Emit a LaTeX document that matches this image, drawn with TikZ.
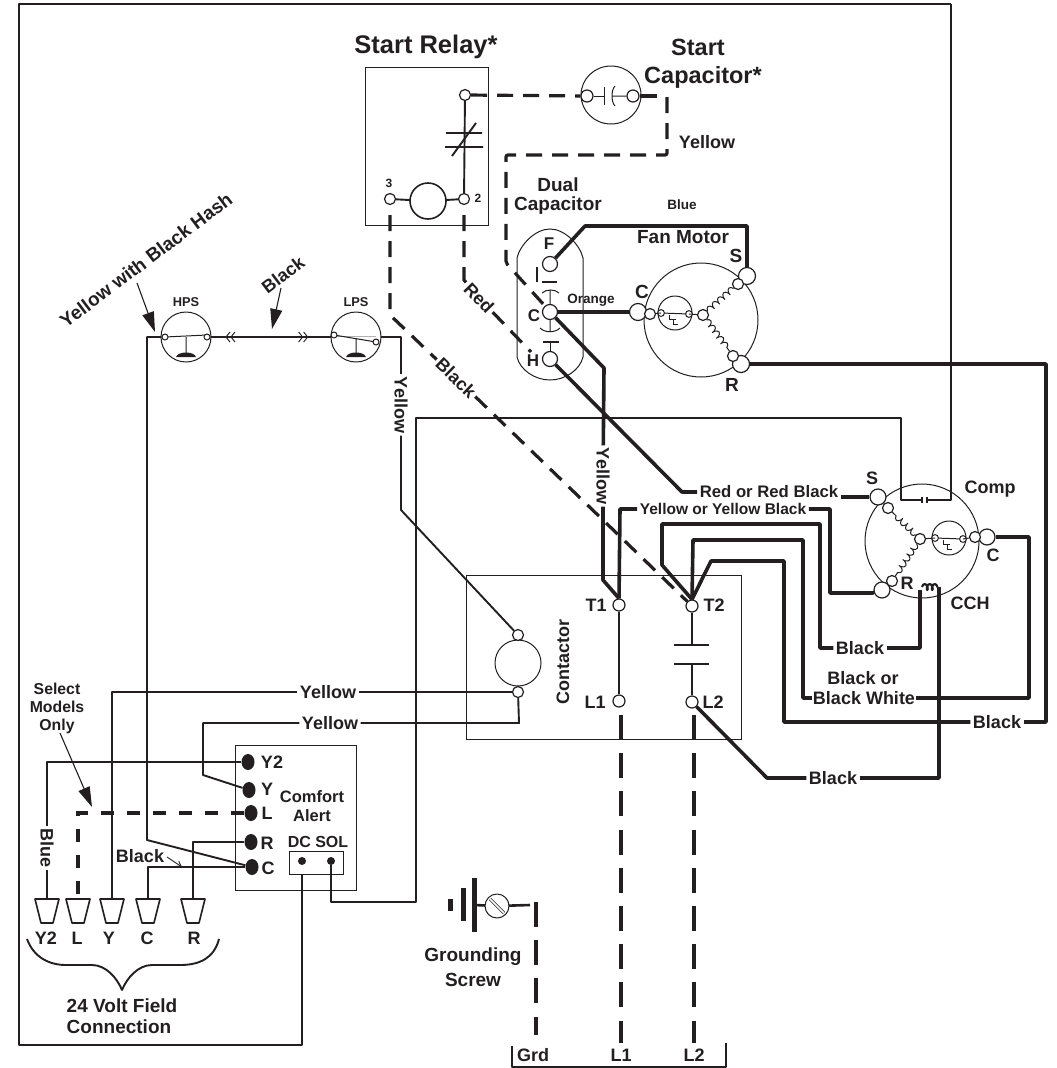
\documentclass[tikz,border=0pt]{standalone}
\usepackage{fontspec}
\setmainfont{Liberation Sans}
\usepackage{tikz}
\usetikzlibrary{shapes.geometric, arrows.meta, decorations.pathmorphing, decorations.markings}
\definecolor{ink}{HTML}{231F20}
\tikzset{
    lbl/.style={font=\fontsize{18}{19}\selectfont\bfseries, text=ink, inner sep=2.5pt},
    headlbl/.style={font=\fontsize{19}{19}\selectfont\bfseries, text=ink, inner sep=1pt, align=center},
    midlbl/.style={font=\fontsize{16}{18}\selectfont\bfseries, text=ink, inner sep=2.5pt, align=center},
    smalllbl/.style={font=\fontsize{13.5}{14}\selectfont\bfseries, text=ink, inner sep=1pt},
    term/.style={circle, draw=ink, fill=white, line width=1.2pt, inner sep=0pt, minimum size=11pt},
    bigterm/.style={term, minimum size=17pt},
    fieldterm/.style={ellipse, fill=ink, inner sep=0pt, minimum width=13pt, minimum height=16pt},
    dot/.style={circle, fill=ink, inner sep=0pt, minimum size=8pt},
    plate/.style={rectangle, draw=ink, line width=1pt, inner sep=0pt, outer sep=0pt},
    body/.style={circle, draw=ink, line width=1pt, inner sep=0pt, outer sep=0pt},
    fine/.style={draw=ink, line width=1pt},
    winding/.style={draw=ink, line width=1pt, decorate, decoration={coil, aspect=.45, segment length=7pt, amplitude=3pt}},
    wire/.style={draw=ink, line width=1.9pt, line join=round},
    heavy/.style={draw=ink, line width=3.6pt, line join=round},
    dashwire/.style={draw=ink, line width=3.2pt, dash pattern=on 16pt off 10pt},
    longdash/.style={draw=ink, line width=3.2pt, dash pattern=on 25pt off 13.2pt},
    shortdash/.style={draw=ink, line width=3.2pt, dash pattern=on 13pt off 13pt},
    pointer/.style={draw=ink, line width=1.1pt, -{Triangle[length=20pt,width=12pt]}},
    plugshape/.pic={
        \draw[draw=ink, line width=1.6pt, line join=round] (-12,0) -- (12,0) -- (6,24) -- (-6,24) -- cycle;
    },
    overload/.pic={
        \draw[fine] (0,0) circle (17pt);
        \draw[fine] (-14,0) -- (14,1);
        \draw[fine, fill=white] (-14,0) circle (3.4pt);
        \draw[fine, fill=white] (14,1) circle (3.4pt);
        \draw[fine] (-6,2) -- (-6,6) -- (1,6) (-2,6) -- (-2,11) -- (3,11);
    }
}
\begin{document}
\begin{tikzpicture}[x=1pt, y=-1pt]
\useasboundingbox (0,0) rectangle (1057,1068);

\node[plate, minimum width=123pt, minimum height=158pt] (relayBox) at (426.5,146) {};
\node[term] (relayTop) at (465,95) {};
\node[term] (relayTwo) at (464,199) {};
\node[term] (relayThree) at (390,199) {};
\node[body, line width=1.6pt, minimum size=36pt] (relayCoil) at (428,201) {};
\node[lbl, font=\fontsize{25.5}{26}\selectfont\bfseries] (titleRelay) at (426,47) {Start Relay*};
\node[smalllbl, font=\fontsize{12}{12}\selectfont\bfseries] (lblThree) at (389,183) {3};
\node[smalllbl, font=\fontsize{12}{12}\selectfont\bfseries] (lblTwo) at (478,198) {2};
\draw[wire] (relayTop) -- (relayTwo);
\draw[wire] (446,133) -- (482,133) (445,147) -- (483,147) (452,156) -- (476,123);
\draw[wire] (relayThree) -- (relayCoil);
\draw[wire] (relayCoil) -- (relayTwo);

\node[body, ellipse, minimum width=60pt, minimum height=58pt] (startCap) at (611,95) {};
\node[term, minimum size=12pt] (startCapL) at (587,96) {};
\node[term, minimum size=12pt] (startCapR) at (633,96) {};
\node[lbl, font=\fontsize{23.5}{23.5}\selectfont\bfseries] (titleStart) at (698,47) {Start};
\node[lbl, font=\fontsize{23.5}{23.5}\selectfont\bfseries] (titleCapacitor) at (703,77) {Capacitor*};
\node[lbl] (lblYellowCap) at (707,142) {Yellow};
\draw[fine] (startCapL) -- (604,96) (604,87) -- (604,105);
\draw[fine] (615,86) .. controls (611,90) and (611,102) .. (615,106) (612,96) -- (startCapR);
\draw[dashwire] (relayTop) -- (startCapL);
\draw[heavy] (startCapR) -- (657,96);
\draw[dashwire, rounded corners=2pt] (667,97) |- (506,155) -- (506,263) -- (545,306);

\node[headlbl] (titleDual) at (558,196) {Dual\\Capacitor};
\node[smalllbl] (lblBlueFan) at (682,205) {Blue};
\node[headlbl] (titleFan) at (683,237) {Fan Motor};
\draw[fine] (517,258) -- (517,357) .. controls (520,370) and (535,380) .. (550,380) .. controls (565,380) and (580,370) .. (583,357) -- (583,258) .. controls (580,245) and (565,229) .. (550,229) .. controls (535,229) and (520,245) .. (517,258);
\node[term, minimum size=15pt] (capF) at (550,264) {};
\node[term, minimum size=15pt] (capC) at (550,312) {};
\node[term, minimum size=15pt] (capH) at (550,359) {};
\node[headlbl, font=\fontsize{17}{17}\selectfont\bfseries] (lblF) at (549,244) {F};
\node[headlbl, font=\fontsize{17}{17}\selectfont\bfseries] (lblC) at (534,316) {C};
\node[headlbl, font=\fontsize{17}{17}\selectfont\bfseries] (lblH) at (533,361) {H};
\node[smalllbl] (lblOrange) at (591,300) {Orange};
\draw[fine, line width=1.4pt] (537,267) -- (537,282) (542,282) -- (557,282) (543,342) -- (559,342);
\draw[fine] (542,293) .. controls (546,289) and (555,289) .. (559,293) (550,290) -- (capC);
\draw[fine] (540,328) .. controls (545,333) and (555,333) .. (560,328) (550,332) -- (capC);
\draw[fine] (550,342) -- (capH);

\node[body, minimum size=114pt] (motorBody) at (701,320) {};
\node[bigterm] (motorS) at (747,276) {};
\node[term] (motorSin) at (738,284) {};
\node[bigterm] (motorR) at (741,364) {};
\node[term] (motorRin) at (733,356) {};
\node[bigterm] (motorC) at (638,312) {};
\node[term] (motorCin) at (650,314) {};
\node[term] (motorStar) at (703,315) {};
\node[headlbl] (lblMotorS) at (736,256) {S};
\node[headlbl] (lblMotorC) at (642,292) {C};
\node[headlbl] (lblMotorR) at (732,385) {R};
\pic at (675,313) {overload};
\draw[fine] (motorCin) -- (661,313) (689,314) -- (motorStar);
\draw[winding] (motorStar) -- (motorSin);
\draw[winding] (motorStar) -- (motorRin);

\node[body, minimum size=50pt] (hpsBody) at (186,337) {};
\node[body, minimum size=50pt] (lpsBody) at (356,337) {};
\node[smalllbl, font=\fontsize{12.8}{13}\selectfont\bfseries] (lblHps) at (186,302) {HPS};
\node[smalllbl, font=\fontsize{12.8}{13}\selectfont\bfseries] (lblLps) at (356,302) {LPS};
\draw[fine] (165,337) -- (207,335) (186,337) -- (186,356);
\draw[fine, fill=white] (165,337) circle (3pt) (207,337) circle (3pt);
\fill[ink] (176,357) .. controls (178,351) and (194,351) .. (196,357) -- cycle;
\draw[draw=black!30, line width=.6pt] (334,336) -- (376,336);
\draw[fine] (334,335) -- (376,342) (356,339) -- (356,354);
\draw[fine, fill=white] (334,335) circle (3pt) (376,342) circle (3pt);
\fill[ink] (346,357) .. controls (348,351) and (364,351) .. (366,357) -- cycle;

\node[lbl, rotate=37, font=\fontsize{19}{19}\selectfont\bfseries] (lblHash) at (146,260) {Yellow with Black Hash};
\node[lbl, rotate=37] (lblBlackTop) at (283,275) {Black};
\node[lbl, rotate=-90] (lblYellowLps) at (401,405) {Yellow};
\coordinate (hashStart) at (137,283);
\coordinate (hashTip) at (155,332);
\coordinate (blackStart) at (281,288);
\coordinate (blackTip) at (272,329);
\draw[pointer] (hashStart) -- (hashTip);
\draw[pointer] (blackStart) -- (blackTip);
\draw[wire, postaction={decorate}, decoration={markings,
    mark=at position .12 with {\arrowreversed{Straight Barb[length=4pt,width=10pt,line width=.9pt]Straight Barb[length=4pt,width=10pt,line width=.9pt]}},
    mark=at position .81 with {\arrow{Straight Barb[length=4pt,width=10pt,line width=.9pt]Straight Barb[length=4pt,width=10pt,line width=.9pt]}}}] (hpsBody.east) -- (lpsBody.west);
\draw[wire] (lpsBody.east) -- (401,337) -- (lblYellowLps);

\node[plate, minimum width=275pt, minimum height=164pt] (contactorBox) at (603.5,657) {};
\node[body, minimum size=46pt] (contactorCoil) at (518,663) {};
\node[term] (coilTop) at (518,635) {};
\node[term] (coilBottom) at (518,692) {};
\node[term, minimum size=12pt] (termT1) at (619,605) {};
\node[term, minimum size=12pt] (termL1) at (619,701) {};
\node[term, minimum size=12pt] (termT2) at (692,606) {};
\node[term, minimum size=12pt] (termL2) at (692,702) {};
\node[lbl, inner sep=0pt] (lblT1) at (596,605) {T1};
\node[lbl, inner sep=0pt] (lblT2) at (714,605) {T2};
\node[lbl, inner sep=0pt] (lblL1) at (595,702) {L1};
\node[lbl, inner sep=0pt] (lblL2) at (713,702) {L2};
\node[lbl, rotate=90] (lblContactor) at (563,662) {Contactor};
\draw[wire] (termT1) -- (termL1);
\draw[wire] (termT2) -- (692,645) (692,664) -- (termL2);
\draw[wire] (674,645) -- (709,645) (674,664) -- (709,664);
\draw[wire] (lblYellowLps) -- (401,510) -- (coilTop);

\node[lbl, rotate=-46] (lblRed) at (479,298) {Red};
\node[lbl, rotate=-44] (lblBlackDash) at (456,378) {Black};
\coordinate (redEnd) at (531,352);
\draw[dashwire, dash phase=16pt] (relayTwo) -- (464,280) -- (lblRed);
\draw[dashwire] (lblRed) -- (redEnd);
\draw[dashwire, dash phase=16pt] (relayThree) -- (390,315) -- (lblBlackDash);
\draw[dashwire] (lblBlackDash) -- (termT2);

\draw[heavy] (capF) -- (585,226) -| (motorS);
\draw[heavy] (capC) -- (motorC);
\node[lbl, rotate=-90] (lblYellowRun) at (603,476) {Yellow};
\draw[heavy] (capC) -- (604,368) -- (lblYellowRun);
\draw[heavy] (lblYellowRun) -- (603,580) -- (termT1.north);

\node[body, minimum size=114pt] (compBody) at (922,541) {};
\node[bigterm, minimum size=16pt] (compS) at (878,497) {};
\node[term] (compSin) at (888,508) {};
\node[bigterm, minimum size=16pt] (compR) at (882,590) {};
\node[term] (compRin) at (892,581) {};
\node[bigterm, minimum size=16pt] (compC) at (987,537) {};
\node[term] (compCin) at (975,537) {};
\node[term] (compStar) at (920,539) {};
\node[lbl, inner sep=0pt] (titleComp) at (990,489) {Comp};
\node[lbl, inner sep=0pt] (lblCompS) at (872,478) {S};
\node[lbl, inner sep=0pt] (lblCompC) at (993,555) {C};
\node[lbl, inner sep=0pt] (lblCompR) at (907,583) {R};
\node[lbl, inner sep=0pt] (lblCch) at (970,603) {CCH};
\pic at (949,538) {overload};
\draw[fine] (compStar) -- (935,538) (963,539) -- (compCin);
\draw[winding] (compStar) -- (compSin);
\draw[winding] (compStar) -- (compRin);
\draw[wire, line width=2.2pt, decorate, decoration={coil, segment length=5pt, amplitude=3pt}] (922,587) -- (938,587);

\node[midlbl, font=\fontsize{16.7}{17}\selectfont\bfseries] (lblRedBlack) at (769,492) {Red or Red Black};
\node[midlbl, font=\fontsize{15.5}{16}\selectfont\bfseries] (lblYellowBlack) at (723,509) {Yellow or Yellow Black};
\node[lbl] (lblBlackHeat) at (860,648) {Black};
\node[lbl, inner sep=0pt] (lblBlackOr) at (863,678) {Black or};
\node[lbl, inner sep=1pt] (lblBlackWhite) at (864,698) {Black White};
\node[lbl] (lblBlackR) at (997,722) {Black};
\node[lbl] (lblBlackH) at (833,778) {Black};
\draw[heavy] (capH) -- (682,492) -- (lblRedBlack);
\draw[heavy] (lblRedBlack.east |- compS) -- (compS);
\draw[heavy] (termT1.north) -- (620,509) -- (lblYellowBlack);
\draw[heavy] (lblYellowBlack) -- (830,509) -- (830,593) -- (compR.200);
\draw[heavy] (termT2.north) -- (662,565) -- (662,524) -- (820,524) -- (820,648) -- (lblBlackHeat);
\draw[heavy] (lblBlackHeat) -- (920,648) -- (920,590);
\draw[heavy] (termT2.north) -- (693,540) -- (803,540) -- (803,698) -- (lblBlackWhite);
\draw[heavy] (lblBlackWhite) -- (1029,698) |- (compC);
\draw[heavy] (termT2.north) -- (711,561) -- (784,561) -- (784,722) -- (lblBlackR);
\draw[heavy] (lblBlackR) -- (1046,722) |- (motorR);
\draw[heavy] (termL2) -- (767,778) -- (lblBlackH);
\draw[heavy] (lblBlackH) -- (939,778) -- (939,587);

\draw[longdash] (621,715) -- (621,1043);
\draw[longdash] (694,715) -- (694,1043);
\draw[longdash] (536,902) -- (536,1035);

\node[plate, minimum width=121pt, minimum height=145pt] (comfortBox) at (295.5,817.5) {};
\node[plate, minimum width=54pt, minimum height=23pt] (dcBox) at (316,862.5) {};
\node[dot] (dotDC) at (302,861) {};
\node[dot] (dotSOL) at (331,861) {};
\node[fieldterm] (termY2) at (248,762) {};
\node[fieldterm] (termY) at (249,790) {};
\node[fieldterm] (termL) at (251,813) {};
\node[fieldterm] (termR) at (251,842) {};
\node[fieldterm] (termC) at (252,867) {};
\node[lbl, inner sep=0pt] (lblY2) at (272,762) {Y2};
\node[lbl, inner sep=0pt] (lblY) at (267,789) {Y};
\node[lbl, inner sep=0pt] (lblL) at (267,813) {L};
\node[lbl, inner sep=0pt] (lblR) at (267,843) {R};
\node[lbl, inner sep=0pt] (lblC) at (268,868) {C};
\node[midlbl, font=\fontsize{16.5}{19}\selectfont\bfseries] (lblComfort) at (312,806) {Comfort\\Alert};
\node[midlbl, inner sep=0pt] (lblDcSol) at (318,842) {DC SOL};

\coordinate (plugY2) at (47,899);
\coordinate (plugL) at (78,899);
\coordinate (plugY) at (112,899);
\coordinate (plugC) at (148,899);
\coordinate (plugR) at (193,899);
\pic at (plugY2) {plugshape};
\pic at (plugL) {plugshape};
\pic at (plugY) {plugshape};
\pic at (plugC) {plugshape};
\pic at (plugR) {plugshape};
\node[lbl, inner sep=0pt] (lblPlugY2) at (46,938) {Y2};
\node[lbl, inner sep=0pt] (lblPlugL) at (77,938) {L};
\node[lbl, inner sep=0pt] (lblPlugY) at (109,938) {Y};
\node[lbl, inner sep=0pt] (lblPlugC) at (147,938) {C};
\node[lbl, inner sep=0pt] (lblPlugR) at (194,938) {R};
\draw[wire] (27,939) .. controls (34,958) and (50,965) .. (66,965) -- (92,965) .. controls (106,965) and (117,978) .. (122,990) .. controls (127,978) and (138,965) .. (152,965) -- (180,965) .. controls (200,965) and (214,958) .. (219,939);
\node[headlbl, align=left] (lblField) at (122,1016) {24 Volt Field\\[2pt]Connection};

\node[lbl, rotate=-90] (lblBlue) at (47,848) {Blue};
\node[lbl] (lblYellowA) at (328,692) {Yellow};
\node[lbl] (lblYellowB) at (330,723) {Yellow};
\node[lbl, inner sep=0pt] (lblBlackC) at (140,856) {Black};
\node[midlbl, inner sep=0pt, font=\fontsize{15.8}{18}\selectfont\bfseries] (lblSelect) at (57,708) {Select\\Models\\Only};
\coordinate (selectStart) at (60,733);
\coordinate (selectTip) at (92,807);
\coordinate (blackCStart) at (167,857);
\coordinate (blackCTip) at (182,867);
\draw[pointer] (selectStart) -- (selectTip);
\draw[draw=ink, line width=.9pt, -{Straight Barb[length=5pt,width=6pt]}] (blackCStart) -- (blackCTip);

\draw[wire] (termY2) -| (lblBlue);
\draw[wire] (lblBlue) -- (plugY2);
\draw[wire] (coilBottom) -- (lblYellowA);
\draw[wire] (lblYellowA) -| (plugY);
\draw[wire] (coilBottom) -- (519,723) -- (lblYellowB);
\draw[wire] (lblYellowB) -- (203,723) -- (203,775) -- (termY);
\draw[shortdash] (termL) -| (plugL);
\draw[wire] (termR) -| (plugR);
\draw[wire] (termC) -| (plugC);
\draw[wire] (hpsBody.west) -- (147,337) -- (147,840) -- (termC);

\draw[wire] (951,4) -- (951,500) -- (927,500);
\draw[wire] (dcBox.south -| dotDC) |- (19,1045) |- (951,4);
\draw[wire] (927,497) -- (927,503) (922,497) -- (922,503);
\draw[wire] (922,500) -- (901,500) |- (416,418) -- (416,902) -| (dotSOL);

\node[body, minimum size=24pt] (screwHead) at (497,906) {};
\node[lbl, font=\fontsize{19}{25}\selectfont\bfseries, align=center] (lblScrew) at (473,967) {Grounding\\Screw};
\draw[line width=5pt, draw=ink] (450,899) -- (450,911) (463,888) -- (463,921) (474,878) -- (474,932);
\draw[wire, line width=2.6pt] (474,905) -- (screwHead);
\draw[wire, line width=2.6pt] (screwHead) -- (530,905);
\draw[fine, double=white, double distance=1.6pt, line width=.7pt] (490,899) -- (504,913);

\node[lbl, inner sep=0pt] (lblGrd) at (533,1055) {Grd};
\node[lbl, inner sep=0pt] (lblLineOne) at (621,1055) {L1};
\node[lbl, inner sep=0pt] (lblLineTwo) at (694,1055) {L2};
\draw[wire] (512,1046) |- (726,1067) -- (726,1043);
\end{tikzpicture}
\end{document}
